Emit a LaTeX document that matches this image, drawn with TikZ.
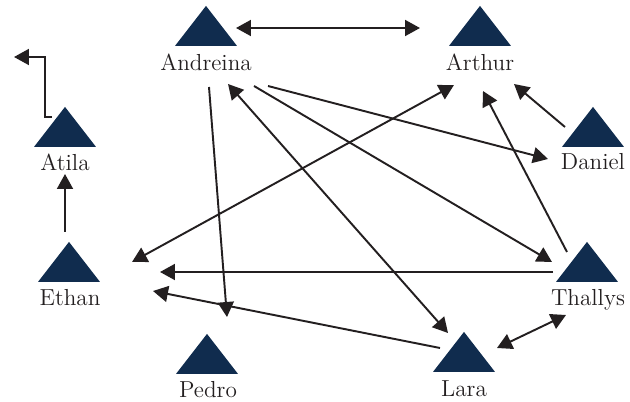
\documentclass[tikz,border=0pt]{standalone}
\usetikzlibrary{positioning,shapes.geometric,arrows.meta}
\definecolor{figMarine}{RGB}{16,44,78}
\definecolor{figTrait}{RGB}{35,31,32}
\begin{document}
\begin{tikzpicture}[
  x=0.02cm, y=-0.02cm, every node/.style={font=\fontsize{13.2}{15}\selectfont},
  perso/.style={isosceles triangle, isosceles triangle stretches, shape border rotate=90,
                minimum width=1.24cm, minimum height=0.8cm, inner sep=0pt,
                fill=figMarine, anchor=apex},
  nom/.style={anchor=base, inner sep=0pt, text=figTrait},
  fl/.style={-{Triangle[length=0.3cm,width=0.32cm]}, line width=1.1pt, figTrait},
  fll/.style={{Triangle[length=0.3cm,width=0.32cm]}-{Triangle[length=0.3cm,width=0.32cm]},
              line width=1.1pt, figTrait}
]
\useasboundingbox (0,0) rectangle (630,402);

\node[perso] (andreinaT) at (206,5)   {};
\node[perso] (arthurT)   at (480,5)   {};
\node[perso] (atilaT)    at (65,106)  {};
\node[perso] (danielT)   at (593,106) {};
\node[perso] (ethanT)    at (69,241)  {};
\node[perso] (thallysT)  at (587,241) {};
\node[perso] (pedroT)    at (207,333) {};
\node[perso] (laraT)     at (464,331) {};

\node[nom] (andreina) at (206,71)  {Andreina};
\node[nom] (arthur)   at (480,71)  {Arthur};
\node[nom] (atila)    at (65,171)  {Atila};
\node[nom] (daniel)   at (593,170) {Daniel};
\node[nom] (ethan)    at (70,306)  {Ethan};
\node[nom] (thallys)  at (588,306) {Thallys};
\node[nom] (pedro)    at (208,398) {Pedro};
\node[nom] (lara)     at (464,397) {Lara};

% Liens : extremites decalees depuis la ligne de base des noms.
\coordinate (sortie) at (14,57);
\draw[fl] ([shift={(-13,-54)}]atila.base) -- ++(-7,0) |- (sortie);
\draw[fl] ([shift={(-5,-74)}]ethan.base) -- ([shift={(0,3)}]atila.base);
\draw[fll] ([shift={(30,-43)}]andreina.base) -- ([shift={(-60,-43)}]arthur.base);
\draw[fll] ([shift={(62,-44)}]ethan.base) -- ([shift={(-26,14)}]arthur.base);
\draw[fl] ([shift={(-35,-34)}]thallys.base) -- ([shift={(90,-34)}]ethan.base);
\draw[fl] ([shift={(-24,-49)}]lara.base) -- ([shift={(83,-15)}]ethan.base);
\draw[fl] ([shift={(3,16)}]andreina.base) -- ([shift={(19,-81)}]pedro.base);
\draw[fll] ([shift={(22,13)}]andreina.base) -- ([shift={(-16,-64)}]lara.base);
\draw[fl] ([shift={(48,15)}]andreina.base) -- ([shift={(-36,-44)}]thallys.base);
\draw[fl] ([shift={(62,15)}]andreina.base) -- ([shift={(-45,-11)}]daniel.base);
\draw[fl] ([shift={(-21,-54)}]thallys.base) -- ([shift={(3,20)}]arthur.base);
\draw[fl] ([shift={(-28,-43)}]daniel.base) -- ([shift={(34,13)}]arthur.base);
\draw[fll] ([shift={(33,-49)}]lara.base) -- ([shift={(-22,9)}]thallys.base);
\end{tikzpicture}
\end{document}
